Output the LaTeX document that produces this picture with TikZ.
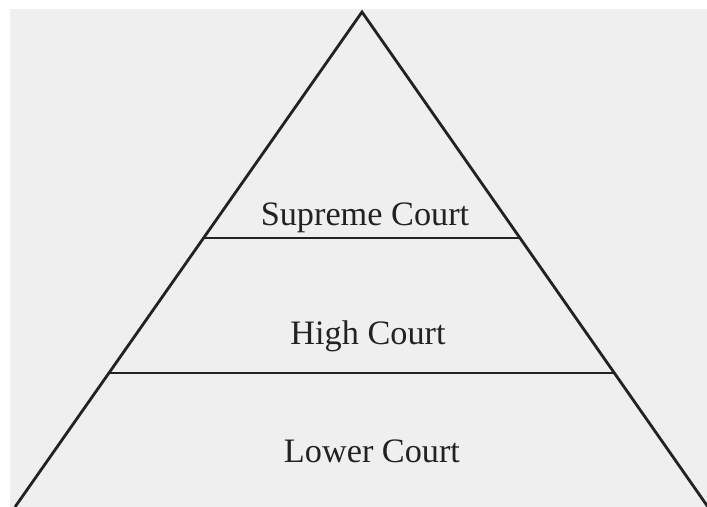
\documentclass[tikz,border=0pt]{standalone}
\usepackage{fontspec}
\setmainfont{Liberation Serif}
\usetikzlibrary{calc}
\definecolor{paper}{HTML}{EFEFEF}
\definecolor{ink}{HTML}{222222}
\tikzstyle{pyramid edge}=[draw=ink, line width=1.6pt, line join=miter]
\tikzstyle{tier line}=[draw=ink, line width=1.6pt]
\tikzstyle{tier label}=[anchor=base, inner sep=0pt, text=ink, font=\fontsize{19.5}{22}\selectfont]

\begin{document}
\begin{tikzpicture}[x=0.02cm, y=-0.02cm]
  \useasboundingbox (0, 0) rectangle (707, 507);
  \fill[paper] (10, 9) rectangle (707, 507);
  \coordinate (apex) at (362, 12);
  \coordinate (base left) at (15, 507);
  \coordinate (base right) at (708, 507);
  \draw[pyramid edge] (base left) -- (apex) -- (base right);
  % tier boundaries
  \coordinate (top left) at ($(apex)!0.4566!(base left)$);
  \coordinate (top right) at ($(apex)!0.4566!(base right)$);
  \coordinate (mid left) at ($(apex)!0.7293!(base left)$);
  \coordinate (mid right) at ($(apex)!0.7293!(base right)$);
  \draw[tier line] (top left) -- (top right);
  \draw[tier line] (mid left) -- (mid right);
  % labels
  \node[tier label] (supreme) at (365, 225) {Supreme Court};
  \node[tier label] (high) at (368, 344) {High Court};
  \node[tier label] (lower) at (372, 462) {Lower Court};
\end{tikzpicture}
\end{document}
